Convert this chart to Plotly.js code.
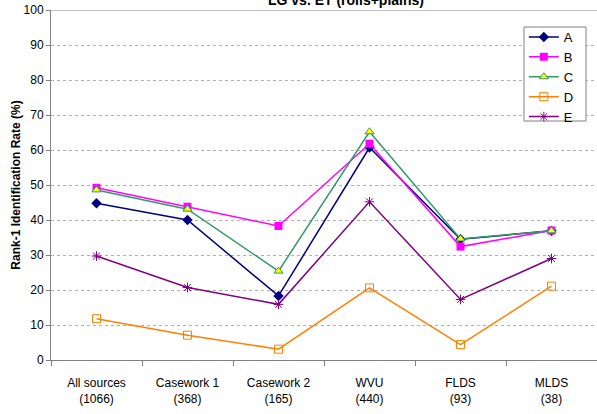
<!DOCTYPE html>
<html>
<head>
<meta charset="utf-8">
<script src="https://cdn.plot.ly/plotly-3.0.1.min.js"></script>
<style>html,body{margin:0;padding:0;background:#fff;}#chart{width:597px;height:414px;}</style>
</head>
<body>
<div id="chart"></div>
<script>
var categories = ["All sources<br>(1066)", "Casework 1<br>(368)", "Casework 2<br>(165)", "WVU<br>(440)", "FLDS<br>(93)", "MLDS<br>(38)"];
var seriesA = [44.8, 40.0, 18.3, 60.7, 34.5, 36.9];
var seriesB = [49.2, 43.8, 38.3, 61.8, 32.4, 37.0];
var seriesC = [48.6, 43.1, 25.4, 65.2, 34.6, 36.9];
var seriesD = [11.8, 7.1, 3.1, 20.6, 4.4, 21.1];
var seriesE = [29.7, 20.7, 15.9, 45.2, 17.3, 29.0];
var seriesNames = ["A", "B", "C", "D", "E"];

var styles = [
  {color: "#000080", marker: {symbol: "diamond", size: 8, color: "#000080"}},
  {color: "#FF00FF", marker: {symbol: "square", size: 8, color: "#FF00FF"}},
  {color: "#339966", marker: {symbol: "triangle-up", size: 8, color: "#FFFF00", line: {color: "#339966", width: 1}}},
  {color: "#FF8000", marker: {symbol: "square-open", size: 8, color: "#FF8000", line: {width: 1}}},
  {color: "#800080", marker: {symbol: "asterisk-open", size: 8, color: "#800080", line: {color: "#800080", width: 1}}}
];
var allSeries = [seriesA, seriesB, seriesC, seriesD, seriesE];
var traces = allSeries.map(function (vals, i) {
  return {
    type: "scatter", mode: "lines+markers", name: seriesNames[i],
    x: categories, y: vals,
    line: {color: styles[i].color, width: 1.5},
    marker: styles[i].marker
  };
});

var layout = {
  width: 597, height: 414,
  margin: {l: 51, r: 0, t: 10, b: 54},
  paper_bgcolor: "#fff", plot_bgcolor: "#fff",
  font: {family: "Liberation Sans, Arial, sans-serif", size: 12, color: "#000"},
  title: {text: "<b>LG vs. ET (rolls+plains)</b>", font: {size: 14, color: "#000"}, x: 346/597, xanchor: "center", y: 1.0, yref: "container", yanchor: "middle"},
  showlegend: true,
  legend: {x: 0.866, y: (360 - 22) / 350, xanchor: "left", yanchor: "top", bgcolor: "rgba(0,0,0,0)", borderwidth: 0, font: {size: 13}, tracegroupgap: 0},
  xaxis: {
    type: "category", range: [-0.5, 5.5], tickson: "boundaries", ticks: "outside", ticklen: 5, tickcolor: "#808080",
    showline: true, linecolor: "#808080", linewidth: 1, showgrid: false, tickfont: {size: 12, color: "#000"},
    ticklabelstandoff: 12
  },
  yaxis: {
    range: [0, 100], dtick: 10, ticks: "outside", ticklen: 4, tickcolor: "#808080",
    showline: true, linecolor: "#808080", linewidth: 1,
    showgrid: true, gridcolor: "#b0b0b0", griddash: "dot", gridwidth: 1, zeroline: false,
    tickfont: {size: 12, color: "#000"},
    title: {text: "<b>Rank-1 Identification Rate (%)</b>", font: {size: 12, color: "#000"}, standoff: 0}
  },
  shapes: [
    {type: "line", xref: "paper", yref: "y", x0: 0, x1: 1, y0: 100, y1: 100, line: {color: "#808080", width: 1}},
    {type: "rect", layer: "above", xref: "paper", yref: "paper",
     x0: (524 - 51) / 546, x1: (586 - 51) / 546, y0: (360 - 121) / 350, y1: (360 - 27) / 350,
     fillcolor: "#fff", line: {color: "#808080", width: 1}}
  ]
};
Plotly.newPlot("chart", traces, layout, {displayModeBar: false, staticPlot: true});
</script>
</body>
</html>
